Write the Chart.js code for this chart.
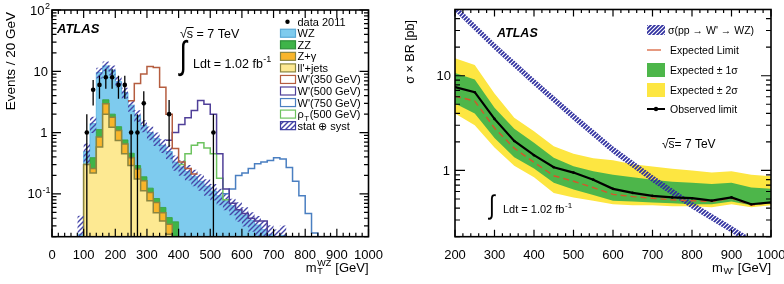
<!DOCTYPE html>
<html>
<head>
<meta charset="utf-8">
<title>WZ resonance search</title>
<script src="https://cdn.jsdelivr.net/npm/chart.js@4.4.1/dist/chart.umd.min.js"></script>
<style>
  body { margin: 0; background: #fff; }
  canvas { position: absolute; top: 0; }
  #left { left: 0; }
  #right { left: 392px; }
</style>
</head>
<body>
<canvas id="left" width="392" height="284"></canvas>
<canvas id="right" width="392" height="284"></canvas>
<script>
//left panel: m_T(WZ), 20 GeV bins

let binWidth = 20
//left edges of the background bins
let binEdges = [80, 100, 120, 140, 160, 180, 200, 220, 240, 260, 280, 300, 320, 340, 360, 380, 400, 420, 440, 460, 480, 500, 520, 540, 560, 580, 600, 620, 640, 660, 680, 700, 720, 740]
//background components (events / 20 GeV), from 80 GeV upward
let llJets = [0, 0.30, 0.22, 0.58, 2.0, 1.22, 0.74, 0.45, 0.29, 0.174, 0.112, 0.077, 0.049, 0.036, 0.022, 0.012]
let zGamma = [0, 0, 0.04, 0.27, 0.95, 0.56, 0.34, 0.20, 0.10, 0.08, 0.051, 0.028, 0.023, 0.013, 0.010, 0.008]
let zz = [0, 0, 0.13, 0.27, 0.48, 0.22, 0.17, 0.11, 0.07, 0.036, 0.027, 0.019, 0.012, 0.011, 0.009, 0.015]
let wz = [0.022, 0.19, 1.01, 8.4, 8.8, 8.5, 5.55, 3.74, 2.34, 1.61, 1.11, 0.88, 0.72, 0.56, 0.45, 0.295, 0.275, 0.23, 0.19, 0.16, 0.133, 0.111, 0.093, 0.077, 0.064, 0.054, 0.045, 0.037, 0.031, 0.026, 0.022, 0.018, 0.021, 0.012]
//relative stat+syst uncertainty on the total background
let bgErr = [1.0, 0.35, 0.3, 0.2, 0.18, 0.18, 0.2, 0.2, 0.22, 0.22, 0.22, 0.25, 0.25, 0.25, 0.25, 0.28, 0.28, 0.28, 0.3, 0.3, 0.3, 0.3, 0.3, 0.3, 0.3, 0.35, 0.35, 0.35, 0.4, 0.4, 0.4, 0.45, 0.45, 0.45]

//signal + background outlines
let wp350Start = 240
let wp350 = [3.3, 6.3, 9.0, 12.0, 11.5, 5.5, 2.0, 0.55, 0.33, 0.26, 0.21]
let wp500Start = 360
let wp500 = [0.75, 1.0, 1.35, 1.75, 2.3, 3.35, 2.9, 2.0, 0.45, 0.12, 0.07, 0.055, 0.048, 0.04, 0.036, 0.036, 0.02]
let wp750Start = 540
let wp750 = [0.10, 0.12, 0.20, 0.22, 0.26, 0.31, 0.33, 0.35, 0.39, 0.37, 0.27, 0.16, 0.093, 0.048, 0.023, 0.01]
let rhoStart = 400
let rhoT500 = [0.30, 0.45, 0.62, 0.68, 0.56, 0.45, 0.18, 0.08]

//data 2011
let dataCenters = [110, 130, 150, 170, 190, 210, 230, 250, 270, 290, 370, 510]
let dataCounts = [1, 5, 6, 8, 8, 6, 6, 1, 1, 3, 2, 1]

//right panel: limits vs m(W')
let massPoints = [200, 250, 300, 350, 400, 450, 500, 550, 600, 650, 700, 750, 800, 850, 900, 950, 1000]
let observed = [7.6, 6.7, 3.5, 2.05, 1.45, 1.08, 0.95, 0.80, 0.64, 0.58, 0.54, 0.52, 0.51, 0.48, 0.52, 0.44, 0.46]
let expected = [6.1, 5.4, 2.8, 1.72, 1.22, 0.88, 0.77, 0.66, 0.56, 0.53, 0.51, 0.49, 0.48, 0.47, 0.51, 0.43, 0.46]
let exp1Up = [10.7, 9.1, 4.6, 2.75, 1.96, 1.36, 1.11, 0.98, 0.9, 0.85, 0.8, 0.76, 0.74, 0.72, 0.74, 0.66, 0.64]
let exp1Down = [5.1, 4.0, 2.2, 1.38, 1.05, 0.74, 0.63, 0.55, 0.48, 0.47, 0.46, 0.45, 0.44, 0.44, 0.47, 0.43, 0.45]
let exp2Up = [15.3, 13.0, 6.5, 3.6, 2.6, 1.8, 1.5, 1.35, 1.28, 1.16, 1.1, 1.04, 1.0, 0.95, 0.98, 0.9, 0.87]
let exp2Down = [4.0, 3.0, 1.75, 1.12, 0.85, 0.58, 0.52, 0.48, 0.44, 0.43, 0.43, 0.42, 0.42, 0.41, 0.44, 0.41, 0.43]
let theoryMass = [200, 300, 400, 500, 600, 700, 800, 900, 1000]
let theoryXsec = [52, 20.5, 8.6, 3.7, 1.65, 0.82, 0.43, 0.24, 0.13]
let theoryErr = [0.09, 0.09, 0.09, 0.09, 0.09, 0.09, 0.09, 0.09, 0.09]

let FONT = "'Liberation Sans', Arial, sans-serif"
Chart.defaults.font.family = FONT
Chart.defaults.color = "#000"

function makeHatch(ctx, color, size, width) {
    let c = document.createElement("canvas")
    c.width = size
    c.height = size
    let g = c.getContext("2d")
    g.strokeStyle = color
    g.lineWidth = width
    g.beginPath()
    g.moveTo(-1, size + 1)
    g.lineTo(size + 1, -1)
    g.moveTo(-1, 1)
    g.lineTo(1, -1)
    g.moveTo(size - 1, size + 1)
    g.lineTo(size + 1, size - 1)
    g.stroke()
    return ctx.createPattern(c, "repeat")
}

//histogram as stepped points, zero parked below the log axis
function stepLine(start, vals) {
    let pts = vals.map((v, i) => ({ x: start + binWidth * i, y: v > 0 ? v : 1e-4 }))
    pts.push({ x: start + binWidth * vals.length, y: pts[pts.length - 1].y })
    return pts
}

function rich(ctx, x, y, parts, size, align, style) {
    let small = Math.round(size * 0.7)
    let base = (style || "") + " " + size + "px " + FONT
    let sm = (style || "") + " " + small + "px " + FONT
    let widths = parts.map(p => {
        if (typeof p === "string") {
            ctx.font = base
            return ctx.measureText(p).width
        }
        ctx.font = sm
        return Math.max(p.sup ? ctx.measureText(p.sup).width : 0, p.sub ? ctx.measureText(p.sub).width : 0) + 1
    })
    let total = widths.reduce((s, w) => s + w, 0)
    if (align === "right") x -= total
    if (align === "center") x -= total / 2
    ctx.textAlign = "left"
    ctx.textBaseline = "alphabetic"
    parts.forEach((p, i) => {
        if (typeof p === "string") {
            ctx.font = base
            ctx.fillText(p, x, y)
        } else {
            ctx.font = sm
            if (p.sup) ctx.fillText(p.sup, x + 0.5, y - size * 0.42)
            if (p.sub) ctx.fillText(p.sub, x + 0.5, y + size * 0.22)
        }
        x += widths[i]
    })
    return total
}

function sqrtS(ctx, x, y, rest, size) {
    ctx.font = size + "px " + FONT
    ctx.textAlign = "left"
    ctx.textBaseline = "alphabetic"
    let m = ctx.measureText("\u221a")
    let ws = ctx.measureText("s").width
    ctx.fillText("\u221a", x, y)
    ctx.fillText("s" + rest, x + m.width, y)
    let top = y - m.actualBoundingBoxAscent + 0.5
    ctx.lineWidth = 1
    ctx.beginPath()
    ctx.moveTo(x + m.width - 0.5, top)
    ctx.lineTo(x + m.width + ws + 0.5, top)
    ctx.stroke()
}

//integral sign stretched vertically so it stays thin
function integral(ctx, x, yTop, yBot, size) {
    ctx.font = size + "px " + FONT
    ctx.textAlign = "left"
    ctx.textBaseline = "alphabetic"
    let m = ctx.measureText("\u222b")
    let h = m.actualBoundingBoxAscent + m.actualBoundingBoxDescent
    ctx.save()
    ctx.translate(x, yTop)
    ctx.scale(1, (yBot - yTop) / h)
    ctx.fillText("\u222b", 0, m.actualBoundingBoxAscent)
    ctx.restore()
}

function drawFrame(chart, xMajorStep, xMinorStep, t) {
    let ctx = chart.ctx
    let a = chart.chartArea
    let xs = chart.scales.x
    let ys = chart.scales.y
    ctx.save()
    ctx.strokeStyle = "#000"
    ctx.lineWidth = 1.2
    ctx.beginPath()
    for (let v = xs.min; v <= xs.max + 1e-6; v += xMinorStep) {
        let px = xs.getPixelForValue(v)
        let major = Math.abs(v / xMajorStep - Math.round(v / xMajorStep)) < 1e-6
        let len = major ? t.xMajor : t.xMinor
        ctx.moveTo(px, a.bottom)
        ctx.lineTo(px, a.bottom - len)
        ctx.moveTo(px, a.top)
        ctx.lineTo(px, a.top + len)
    }
    for (let e = Math.floor(Math.log10(ys.min)); e <= Math.ceil(Math.log10(ys.max)); e++) {
        for (let m = 1; m <= 9; m++) {
            let v = m * Math.pow(10, e)
            if (v < ys.min * 0.999 || v > ys.max * 1.001) continue
            let py = ys.getPixelForValue(v)
            let len = m === 1 ? t.yMajor : t.yMinor
            ctx.moveTo(a.left, py)
            ctx.lineTo(a.left + len, py)
            ctx.moveTo(a.right, py)
            ctx.lineTo(a.right - len, py)
        }
    }
    ctx.stroke()
    ctx.lineWidth = 1.6
    ctx.strokeRect(a.left, a.top, a.right - a.left, a.bottom - a.top)
    ctx.restore()
}

//left chart

let leftCtx = document.getElementById("left").getContext("2d")
let bgHatch = makeHatch(leftCtx, "#4545a8", 5, 1.4)

let stackLL = binEdges.map((e, i) => llJets[i] || 0)
let stackZg = stackLL.map((v, i) => v + (zGamma[i] || 0))
let stackZZ = stackZg.map((v, i) => v + (zz[i] || 0))
let stackAll = stackZZ.map((v, i) => v + (wz[i] || 0))
let bandUp = stackAll.map((v, i) => v * (1 + bgErr[i]))
let bandDown = stackAll.map((v, i) => v * (1 - bgErr[i]))

let colWZ = "#7ecbee"
let colZZ = "#3fb449"
let colZg = "#f9b52b"
let colLL = "#fde992"
let colOlive = "#8a8540"
let colW350 = "#b55d3f"
let colW500 = "#4f3f98"
let colW750 = "#4a7fc1"
let colRho = "#6dc35f"

let leftLegend = [
    { parts: ["data 2011"], kind: "dot" },
    { parts: ["WZ"], fill: colWZ, stroke: "#5aaad6" },
    { parts: ["ZZ"], fill: colZZ, stroke: "#2f8f3a" },
    { parts: ["Z+\u03b3"], fill: colZg, stroke: colOlive },
    { parts: ["ll'+jets"], fill: colLL, stroke: colOlive },
    { parts: ["W'(350 GeV)"], fill: "#fff", stroke: colW350 },
    { parts: ["W'(500 GeV)"], fill: "#fff", stroke: colW500 },
    { parts: ["W'(750 GeV)"], fill: "#fff", stroke: colW750 },
    { parts: ["\u03c1", { sub: "T" }, "(500 GeV)"], fill: "#fff", stroke: colRho },
    { parts: ["stat \u2295 syst"], fill: bgHatch, stroke: "#3c3ca0" }
]

let leftDecor = {
    id: "leftDecor",
    afterDatasetsDraw(chart) {
        let ctx = chart.ctx
        let a = chart.chartArea
        let xs = chart.scales.x
        let ys = chart.scales.y
        ctx.save()
        ctx.beginPath()
        ctx.rect(a.left, a.top, a.right - a.left, a.bottom - a.top)
        ctx.clip()
        ctx.strokeStyle = "#000"
        ctx.lineWidth = 1.3
        dataCenters.forEach((c, i) => {
            let n = dataCounts[i]
            let e = Math.sqrt(n)
            let px = xs.getPixelForValue(c)
            let top = ys.getPixelForValue(n + e)
            let bot = n - e > 0 ? ys.getPixelForValue(n - e) : a.bottom
            ctx.beginPath()
            ctx.moveTo(px, top)
            ctx.lineTo(px, bot)
            ctx.stroke()
        })
        ctx.restore()
    },
    afterDraw(chart) {
        let ctx = chart.ctx
        let a = chart.chartArea
        let ys = chart.scales.y
        drawFrame(chart, 100, 20, { xMajor: 8, xMinor: 4, yMajor: 9, yMinor: 4.5 })
        ctx.save()
        ctx.fillStyle = "#000"
        ctx.strokeStyle = "#000"
        //y tick labels
        rich(ctx, a.left - 1.5, ys.getPixelForValue(100) + 4.5, ["10", { sup: "2" }], 13, "right")
        rich(ctx, a.left - 4, ys.getPixelForValue(10) + 4.5, ["10"], 13, "right")
        rich(ctx, a.left - 4.5, ys.getPixelForValue(1) + 4.5, ["1"], 13, "right")
        rich(ctx, a.left - 1, ys.getPixelForValue(0.1) + 4.5, ["10", { sup: "-1" }], 13, "right")
        //axis titles
        ctx.save()
        ctx.translate(14.5, a.top + 2)
        ctx.rotate(-Math.PI / 2)
        rich(ctx, 0, 0, ["Events / 20 GeV"], 13.5, "right")
        ctx.restore()
        rich(ctx, a.right, 271.5, ["m", { sub: "T", sup: "WZ" }, " [GeV]"], 13, "right")
        //labels
        rich(ctx, 57, 33, ["ATLAS"], 13, "left", "italic bold")
        sqrtS(ctx, 180, 38, " = 7 TeV", 12.5)
        integral(ctx, 179.5, 40, 77, 27)
        rich(ctx, 193, 67.5, ["Ldt = 1.02 fb", { sup: "-1" }], 12.5, "left")
        //legend
        leftLegend.forEach((item, i) => {
            let y = 21.7 + 11.55 * i
            if (item.kind === "dot") {
                ctx.beginPath()
                ctx.arc(287.5, y, 2.2, 0, Math.PI * 2)
                ctx.fill()
            } else {
                ctx.fillStyle = item.fill
                ctx.fillRect(280.5, y - 4, 15, 8)
                ctx.strokeStyle = item.stroke
                ctx.lineWidth = 1.2
                ctx.strokeRect(280.5, y - 4, 15, 8)
                ctx.fillStyle = "#000"
            }
            rich(ctx, 297.5, y + 4, item.parts, 11, "left")
        })
        ctx.restore()
    }
}

let outline = (pts, color) => ({
    data: pts, borderColor: color, borderWidth: 1.5, stepped: "before",
    pointRadius: 0, fill: false, order: 1
})
let stack = (vals, color, border, width, order) => ({
    data: stepLine(binEdges[0], vals), borderColor: border, borderWidth: width,
    backgroundColor: color, stepped: "before", pointRadius: 0, fill: "start", order: order
})

let chartLeft = new Chart(leftCtx, {
    type: "line",
    data: {
        datasets: [
            {
                data: dataCenters.map((c, i) => ({ x: c, y: dataCounts[i] })),
                showLine: false, pointRadius: 2.3, pointBackgroundColor: "#000",
                pointBorderWidth: 0, order: 0
            },
            outline(stepLine(wp350Start, wp350), colW350),
            outline(stepLine(wp500Start, wp500), colW500),
            outline(stepLine(wp750Start, wp750), colW750),
            outline(stepLine(rhoStart, rhoT500), colRho),
            {
                data: stepLine(binEdges[0], bandUp), borderWidth: 0, backgroundColor: bgHatch,
                stepped: "before", pointRadius: 0, fill: "+1", order: 2
            },
            {
                data: stepLine(binEdges[0], bandDown), borderWidth: 0,
                stepped: "before", pointRadius: 0, fill: false, order: 2
            },
            stack(stackLL, colLL, colOlive, 1.5, 3),
            stack(stackZg, colZg, colOlive, 1.5, 4),
            stack(stackZZ, colZZ, "#35a23f", 0.8, 5),
            stack(stackAll, colWZ, "#66bbe4", 1, 6)
        ]
    },
    options: {
        responsive: false,
        animation: false,
        layout: { padding: { top: 10, right: 23.5, left: 0, bottom: 0 } },
        plugins: { legend: { display: false }, tooltip: { enabled: false } },
        scales: {
            x: {
                type: "linear", min: 0, max: 1000,
                grid: { display: false }, border: { display: false },
                ticks: { stepSize: 100, autoSkip: false, maxRotation: 0, padding: 3, font: { size: 13 }, callback: v => String(v) },
                afterFit: s => { s.height = 47.3; s.paddingLeft = 0; s.paddingRight = 0 }
            },
            y: {
                type: "logarithmic", min: 0.02, max: 100,
                grid: { display: false }, border: { display: false },
                ticks: { display: false },
                afterFit: s => { s.width = 52; s.paddingTop = 0; s.paddingBottom = 0 }
            }
        }
    },
    plugins: [leftDecor]
})

//right chart

let rightCtx = document.getElementById("right").getContext("2d")
let thHatch = makeHatch(rightCtx, "#2f2f9f", 4, 1.7)
let colYellow = "#fde641"
let colGreen = "#4db64a"
let colRed = "#d6552a"

let pts = (xs, vals) => xs.map((x, i) => ({ x: x, y: vals[i] }))

let rightLegend = [
    { parts: ["\u03c3(pp \u2192 W' \u2192 WZ)"], kind: "hatch", y: 30, tx: 276 },
    { parts: ["Expected Limit"], kind: "red", y: 50, tx: 278 },
    { parts: ["Expected \u00b1 1\u03c3"], kind: "box", fill: colGreen, y: 70, tx: 278 },
    { parts: ["Expected \u00b1 2\u03c3"], kind: "box", fill: colYellow, y: 90, tx: 278 },
    { parts: ["Observed limit"], kind: "obs", y: 109, tx: 278 }
]

let rightDecor = {
    id: "rightDecor",
    afterDraw(chart) {
        let ctx = chart.ctx
        let a = chart.chartArea
        let ys = chart.scales.y
        drawFrame(chart, 100, 20, { xMajor: 7, xMinor: 3.5, yMajor: 10, yMinor: 5 })
        ctx.save()
        ctx.fillStyle = "#000"
        ctx.strokeStyle = "#000"
        rich(ctx, a.left - 4, ys.getPixelForValue(10) + 4.5, ["10"], 13, "right")
        rich(ctx, a.left - 5, ys.getPixelForValue(1) + 4.5, ["1"], 13, "right")
        ctx.save()
        ctx.translate(22, 20)
        ctx.rotate(-Math.PI / 2)
        rich(ctx, 0, 0, ["\u03c3 \u00d7 BR [pb]"], 12.5, "right")
        ctx.restore()
        rich(ctx, a.right, 271.5, ["m", { sub: "W'" }, " [GeV]"], 13, "right")
        rich(ctx, 105, 37, ["ATLAS"], 12.5, "left", "italic bold")
        sqrtS(ctx, 270, 148, "= 7 TeV", 12)
        integral(ctx, 97, 193, 220, 21)
        rich(ctx, 111, 212.5, ["Ldt = 1.02 fb", { sup: "-1" }], 11, "left")
        rightLegend.forEach(item => {
            let y = item.y
            if (item.kind === "hatch") {
                ctx.fillStyle = thHatch
                ctx.fillRect(255, y - 5, 18, 10)
            } else if (item.kind === "red") {
                ctx.strokeStyle = colRed
                ctx.lineWidth = 1.2
                ctx.beginPath()
                ctx.moveTo(255, y)
                ctx.lineTo(269, y)
                ctx.stroke()
            } else if (item.kind === "box") {
                ctx.fillStyle = item.fill
                ctx.fillRect(255, y - 7, 18, 14)
            } else {
                ctx.strokeStyle = "#000"
                ctx.lineWidth = 2
                ctx.beginPath()
                ctx.moveTo(255, y)
                ctx.lineTo(273, y)
                ctx.stroke()
                ctx.fillStyle = "#000"
                ctx.beginPath()
                ctx.arc(264, y, 2.2, 0, Math.PI * 2)
                ctx.fill()
            }
            ctx.fillStyle = "#000"
            rich(ctx, item.tx, y + 3.8, item.parts, 10.5, "left")
        })
        ctx.restore()
    }
}

let chartRight = new Chart(rightCtx, {
    type: "line",
    data: {
        datasets: [
            {
                data: pts(massPoints, observed), borderColor: "#000", borderWidth: 2.2,
                pointRadius: 1.3, pointBackgroundColor: "#000", pointBorderWidth: 0, fill: false, order: 0
            },
            {
                data: pts(massPoints, expected), borderColor: colRed, borderWidth: 1.4,
                borderDash: [6, 4], pointRadius: 0, fill: false, order: 1
            },
            {
                data: pts(theoryMass, theoryXsec.map((v, i) => v * (1 + theoryErr[i]))),
                borderWidth: 0, backgroundColor: thHatch, pointRadius: 0, fill: "+1", order: 2
            },
            {
                data: pts(theoryMass, theoryXsec.map((v, i) => v / (1 + theoryErr[i]))),
                borderWidth: 0, pointRadius: 0, fill: false, order: 2
            },
            {
                data: pts(massPoints, exp1Up), borderWidth: 0, backgroundColor: colGreen,
                pointRadius: 0, fill: "+1", order: 3
            },
            { data: pts(massPoints, exp1Down), borderWidth: 0, pointRadius: 0, fill: false, order: 3 },
            {
                data: pts(massPoints, exp2Up), borderWidth: 0, backgroundColor: colYellow,
                pointRadius: 0, fill: "+1", order: 4
            },
            { data: pts(massPoints, exp2Down), borderWidth: 0, pointRadius: 0, fill: false, order: 4 }
        ]
    },
    options: {
        responsive: false,
        animation: false,
        layout: { padding: { top: 9.5, right: 13, left: 0, bottom: 0 } },
        plugins: { legend: { display: false }, tooltip: { enabled: false } },
        scales: {
            x: {
                type: "linear", min: 200, max: 1000,
                grid: { display: false }, border: { display: false },
                ticks: { stepSize: 100, autoSkip: false, maxRotation: 0, padding: 3, font: { size: 13 }, callback: v => String(v) },
                afterFit: s => { s.height = 47.3; s.paddingLeft = 0; s.paddingRight = 0 }
            },
            y: {
                type: "logarithmic", min: 0.2, max: 50,
                grid: { display: false }, border: { display: false },
                ticks: { display: false },
                afterFit: s => { s.width = 63; s.paddingTop = 0; s.paddingBottom = 0 }
            }
        }
    },
    plugins: [rightDecor]
})
</script>
</body>
</html>
